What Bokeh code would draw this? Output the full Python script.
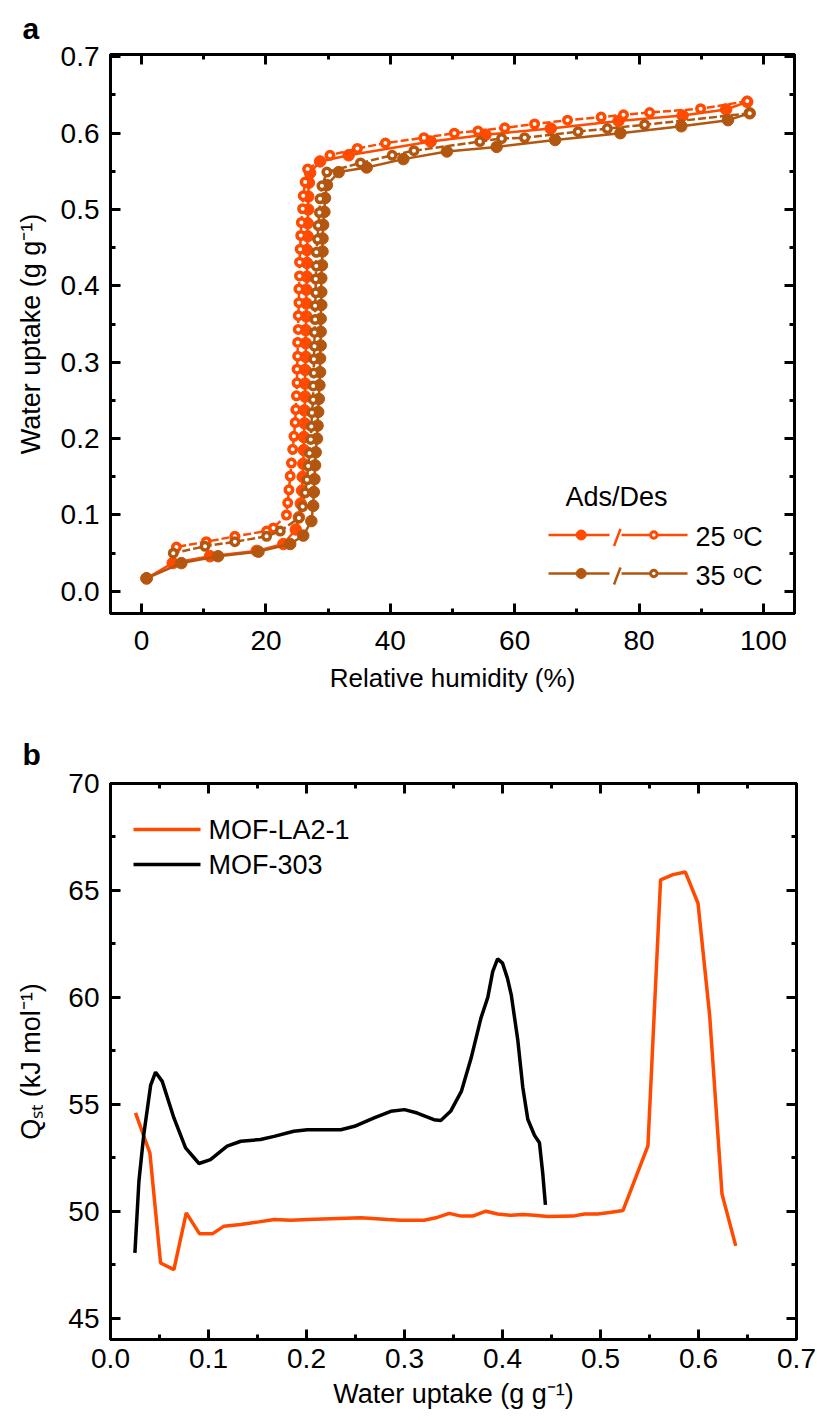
import math
from bokeh.plotting import figure
from bokeh.models import Range1d, LinearAxis, FixedTicker, PrintfTickFormatter, Label
from bokeh.layouts import column
from bokeh.embed import file_html
from bokeh.resources import INLINE

FONT = "Liberation Sans"
C25 = "#FF4A00"
C35 = "#B3560F"
C_LA = "#FF4A00"
C_303 = "#000000"

# ---------------- panel a: water sorption isotherms ----------------
rh_ads25 = [0.8, 5.0, 11.0, 18.5, 22.8, 24.8,
            25.3, 25.6, 25.8, 25.9, 26.0, 26.1, 26.1, 26.2, 26.2, 26.3, 26.3, 26.3, 26.4,
            26.4, 26.4, 26.5, 26.5, 26.5, 26.6, 26.6, 26.6, 26.7, 26.7, 26.8, 26.8, 26.9,
            27.1, 28.7, 33.3, 46.5, 55.3, 65.8, 76.7, 87.0, 94.0, 97.4]
w_ads25 = [0.017, 0.037, 0.046, 0.053, 0.062, 0.081,
           0.097, 0.115, 0.132, 0.150, 0.167, 0.185, 0.202, 0.220, 0.237, 0.255, 0.272, 0.290, 0.307,
           0.325, 0.342, 0.360, 0.377, 0.395, 0.412, 0.430, 0.447, 0.465, 0.482, 0.500, 0.517, 0.535,
           0.548, 0.563, 0.571, 0.589, 0.598, 0.606, 0.616, 0.623, 0.631, 0.641]

rh_des25 = [97.4, 89.9, 81.7, 77.5, 73.9, 68.5, 63.2, 58.4, 54.1, 50.3, 45.4, 39.2, 34.7, 30.3, 26.7,
            26.3, 26.0, 25.9, 25.7, 25.6, 25.5, 25.4, 25.4, 25.3, 25.3, 25.2, 25.2, 25.1, 25.1, 25.0,
            25.0, 24.9, 24.8, 24.7, 24.5, 24.3, 24.1, 23.9, 23.7, 23.5, 23.3,
            21.2, 20.1, 15.0, 10.4, 5.6]
w_des25 = [0.642, 0.632, 0.627, 0.624, 0.621, 0.617, 0.612, 0.607, 0.603, 0.600, 0.594, 0.587, 0.580, 0.571, 0.553,
           0.536, 0.518, 0.501, 0.483, 0.466, 0.448, 0.431, 0.413, 0.396, 0.378, 0.361, 0.343, 0.326, 0.308, 0.291,
           0.273, 0.256, 0.238, 0.221, 0.203, 0.186, 0.168, 0.151, 0.133, 0.116, 0.100,
           0.083, 0.079, 0.072, 0.065, 0.058]

rh_ads35 = [0.8, 6.4, 12.3, 18.8, 23.9, 26.0, 27.3,
            27.6, 27.7, 27.8, 27.9, 28.0, 28.2, 28.3, 28.4, 28.5, 28.6, 28.7, 28.7, 28.8, 28.8,
            28.8, 28.9, 28.9, 28.9, 29.0, 29.1, 29.1, 29.2, 29.4, 29.5, 29.8,
            31.7, 36.2, 42.1, 49.1, 57.1, 66.5, 77.0, 86.8, 94.3, 97.8]
w_ads35 = [0.017, 0.037, 0.046, 0.052, 0.062, 0.073, 0.092,
           0.112, 0.130, 0.147, 0.165, 0.182, 0.200, 0.217, 0.235, 0.252, 0.270, 0.287, 0.305, 0.322, 0.340,
           0.357, 0.375, 0.392, 0.410, 0.427, 0.445, 0.462, 0.480, 0.497, 0.515, 0.532,
           0.549, 0.555, 0.566, 0.576, 0.582, 0.591, 0.600, 0.609, 0.617, 0.626]

rh_des35 = [97.8, 80.9, 74.9, 70.2, 61.6, 57.9, 54.4, 43.8, 40.3, 35.2, 29.8,
            29.0, 28.7, 28.6, 28.4, 28.3, 28.1, 28.1, 28.0, 28.0, 27.9, 27.9, 27.8, 27.8, 27.7,
            27.7, 27.6, 27.6, 27.4, 27.3, 27.2, 27.0, 26.8, 26.6, 26.3, 25.9, 25.3,
            22.3, 20.1, 15.0, 10.2, 5.1]
w_des35 = [0.626, 0.611, 0.606, 0.602, 0.594, 0.593, 0.589, 0.577, 0.571, 0.561, 0.549,
           0.531, 0.514, 0.496, 0.479, 0.461, 0.444, 0.426, 0.409, 0.391, 0.374, 0.356, 0.339, 0.321, 0.304,
           0.286, 0.269, 0.251, 0.234, 0.216, 0.199, 0.181, 0.164, 0.146, 0.129, 0.111, 0.096,
           0.079, 0.072, 0.065, 0.059, 0.050]

a_xticks = [0, 20, 40, 60, 80, 100]
a_xminor = [10, 30, 50, 70, 90]
a_yticks = [0.0, 0.1, 0.2, 0.3, 0.4, 0.5, 0.6, 0.7]
a_yminor = [0.05, 0.15, 0.25, 0.35, 0.45, 0.55, 0.65]
legend_a_title = "Ads/Des"
legend_a_labels = ["25 \u1d52C", "35 \u1d52C"]

# ---------------- panel b: isosteric heat ----------------
u_la = [0.0255, 0.0402, 0.0511, 0.0647, 0.0773, 0.0909, 0.1039, 0.1158, 0.1328, 0.1516,
        0.167, 0.184, 0.201, 0.2555, 0.283, 0.2963, 0.320, 0.332, 0.3457, 0.3577,
        0.3696, 0.383, 0.395, 0.4087, 0.4207, 0.4326, 0.4462, 0.4718, 0.4837, 0.4973,
        0.511, 0.5229, 0.5484, 0.5613, 0.574, 0.5866, 0.5995, 0.6114, 0.624, 0.638]
q_la = [54.6, 52.72, 47.58, 47.27, 49.92, 48.94, 48.94, 49.3, 49.38, 49.5,
        49.61, 49.58, 49.61, 49.69, 49.61, 49.58, 49.58, 49.69, 49.9, 49.77,
        49.77, 50.0, 49.87, 49.81, 49.85, 49.81, 49.75, 49.77, 49.87, 49.87,
        49.95, 50.03, 53.06, 65.49, 65.74, 65.86, 64.4, 59.15, 50.8, 48.38]

u_303 = [0.0249, 0.0290, 0.0340, 0.0410, 0.0460, 0.0528, 0.0647, 0.0766, 0.0903, 0.1020,
         0.1190, 0.1330, 0.1530, 0.1670, 0.1870, 0.2010, 0.2350, 0.2490, 0.2690, 0.2860,
         0.3000, 0.3130, 0.3300, 0.3370, 0.3470, 0.3580, 0.3680, 0.3780, 0.3850, 0.3900,
         0.3950, 0.4000, 0.4050, 0.4090, 0.4156, 0.4207, 0.4258, 0.4326, 0.4377, 0.4410, 0.4438]
q_303 = [48.05, 51.4, 53.6, 55.9, 56.5, 56.07, 54.36, 52.96, 52.23, 52.41,
         53.04, 53.27, 53.35, 53.5, 53.74, 53.81, 53.81, 53.97, 54.36, 54.67,
         54.75, 54.59, 54.28, 54.24, 54.67, 55.6, 57.16, 59.03, 60.0, 61.2,
         61.8, 61.6, 60.9, 60.1, 58.0, 55.8, 54.3, 53.55, 53.2, 51.8, 50.3]

b_xticks = [0.0, 0.1, 0.2, 0.3, 0.4, 0.5, 0.6, 0.7]
b_xminor = [0.05, 0.15, 0.25, 0.35, 0.45, 0.55, 0.65]
b_yticks = [45, 50, 55, 60, 65, 70]
b_yminor = [47.5, 52.5, 57.5, 62.5, 67.5]
legend_b_labels = ["MOF-LA2-1", "MOF-303"]


# ---------------- helpers ----------------
def make_conv(left, top, fw, fh, xr, yr, oy):
    # page pixel -> data coordinates (canvas origin at page (0, oy))
    def cv(px, py):
        cy = py - oy
        return (xr[0] + (px - left) / fw * (xr[1] - xr[0]),
                yr[1] - (cy - top) / fh * (yr[1] - yr[0]))
    return cv


def add_text(p, cv, text, px, py, size=27):
    x, y = cv(px, py)
    p.add_layout(Label(x=x, y=y, text=text, text_font=FONT, text_font_size=f"{size}px",
                       text_color="black", text_align="left", text_baseline="middle"))


def style_axis(ax, ticks, minor, fmt, show, standoff=10):
    ax.ticker = FixedTicker(ticks=ticks, minor_ticks=minor)
    ax.axis_line_width = 3
    ax.axis_line_color = "black"
    ax.major_tick_in = 10
    ax.major_tick_out = 0
    ax.minor_tick_in = 5
    ax.minor_tick_out = 0
    ax.major_tick_line_width = 3
    ax.minor_tick_line_width = 3
    ax.major_tick_line_color = "black"
    ax.minor_tick_line_color = "black"
    if show:
        ax.formatter = PrintfTickFormatter(format=fmt)
        ax.major_label_text_font = FONT
        ax.major_label_text_font_size = "28px"
        ax.major_label_text_color = "black"
        ax.major_label_standoff = standoff
    else:
        ax.major_label_text_font_size = "0px"
        ax.major_label_overrides = {t: "" for t in ticks}
        ax.major_label_standoff = 0


def set_title(ax, text, standoff, size):
    ax.axis_label = text
    ax.axis_label_text_font = FONT
    ax.axis_label_text_font_size = f"{size}px"
    ax.axis_label_text_font_style = "normal"
    ax.axis_label_text_color = "black"
    ax.axis_label_standoff = standoff


def make_fig(fw, fh, left, right, top, bottom, xr, yr, xt, xm, xf, yt, ym, yf, xs, ys,
             panel, pstand, xtitle, xts, xsz, ytitle, yts, ysz):
    p = figure(frame_width=fw, frame_height=fh,
               min_border_left=left, min_border_right=right,
               min_border_top=top, min_border_bottom=bottom,
               x_range=Range1d(*xr), y_range=Range1d(*yr),
               x_axis_location=None, y_axis_location=None,
               output_backend="svg", toolbar_location=None)
    p.xgrid.visible = False
    p.ygrid.visible = False
    p.outline_line_color = "black"
    p.outline_line_width = 3
    p.background_fill_color = "white"
    p.border_fill_color = "white"

    bottom_ax = LinearAxis()
    style_axis(bottom_ax, xt, xm, xf, True, xs)
    set_title(bottom_ax, xtitle, xts, xsz)
    p.add_layout(bottom_ax, "below")

    left_ax = LinearAxis()
    style_axis(left_ax, yt, ym, yf, True, ys)
    set_title(left_ax, ytitle, yts, ysz)
    p.add_layout(left_ax, "left")

    top_ax = LinearAxis()
    style_axis(top_ax, xt, xm, xf, False)
    p.add_layout(top_ax, "above")

    right_ax = LinearAxis()
    style_axis(right_ax, yt, ym, yf, False)
    p.add_layout(right_ax, "right")

    p.title.text = panel
    p.title.text_font = FONT
    p.title.text_font_size = "30px"
    p.title.text_font_style = "bold"
    p.title.text_color = "black"
    p.title.align = "left"
    p.title.offset = 22 - left
    p.title.standoff = pstand
    return p


# ---------------- figure a ----------------
XA, YA = (-5, 105), (-0.029, 0.703)
p1 = make_fig(684, 559, 110, 23, 53, 100, XA, YA,
              a_xticks, a_xminor, "%d", a_yticks, a_yminor, "%.1f", 17, 11, "a", 19,
              "Relative humidity (%)", 10, 26, "Water uptake (g g\u207b\u00b9)", 12, 27)
cv1 = make_conv(110, 53, 684, 559, XA, YA, 0)

series = [(rh_ads25, w_ads25, C25, False), (rh_des25, w_des25, C25, True),
          (rh_ads35, w_ads35, C35, False), (rh_des35, w_des35, C35, True)]
for rh, w, c, des in series:
    if des:
        p1.line(rh, w, line_color=c, line_width=2.5, line_dash="8 3")
        p1.scatter(rh, w, marker="circle", size=7.5, fill_color="white",
                   line_color=c, line_width=3.5)
    else:
        p1.line(rh, w, line_color=c, line_width=2.5)
        p1.scatter(rh, w, marker="circle", size=11.5, fill_color=c,
                   line_color=c, line_width=1)

# legend a
add_text(p1, cv1, legend_a_title, 565, 495)
for i, (lab, c) in enumerate(zip(legend_a_labels, [C25, C35])):
    ly = 533.5 + i * 38.5
    xa0, ya0 = cv1(548, ly)
    xa1, _ = cv1(609, ly)
    xb0, _ = cv1(621, ly)
    xb1, _ = cv1(687, ly)
    p1.segment([xa0, xb0], [ya0, ya0], [xa1, xb1], [ya0, ya0], line_color=c, line_width=2.5)
    s0x, s0y = cv1(613.5, ly + 11)
    s1x, s1y = cv1(620.0, ly - 6)
    p1.segment([s0x], [s0y], [s1x], [s1y], line_color=c, line_width=2.5)
    fx, fy = cv1(580.7, ly)
    ox, oy = cv1(653.3, ly)
    p1.scatter([fx], [fy], marker="circle", size=10, fill_color=c, line_color=c, line_width=1)
    p1.scatter([ox], [oy], marker="circle", size=6.5, fill_color="white", line_color=c, line_width=3)
    add_text(p1, cv1, lab, 695, ly + 2)

# ---------------- figure b ----------------
XB, YB = (0.0, 0.7), (44.0, 70.0)
p2 = make_fig(686, 556, 110, 21, 70, 84, XB, YB,
              b_xticks, b_xminor, "%.1f", b_yticks, b_yminor, "%d", 9, 11, "b", 26,
              "Water uptake (g g\u207b\u00b9)", 8, 27, "Q\u209b\u209c (kJ mol\u207b\u00b9)", 19, 27)
cv2 = make_conv(110, 70, 686, 556, XB, YB, 712)

p2.line(u_la, q_la, line_color=C_LA, line_width=3.5)
p2.line(u_303, q_303, line_color=C_303, line_width=3.5)

for i, (lab, c) in enumerate(zip(legend_b_labels, [C_LA, C_303])):
    ly = 828 + i * 35
    x0, y0 = cv2(133, ly)
    x1, _ = cv2(200, ly)
    p2.segment([x0], [y0], [x1], [y0], line_color=c, line_width=3.5)
    add_text(p2, cv2, lab, 208, ly)

layout = column(p1, p2)
open("out.html", "w").write(file_html(layout, INLINE))
